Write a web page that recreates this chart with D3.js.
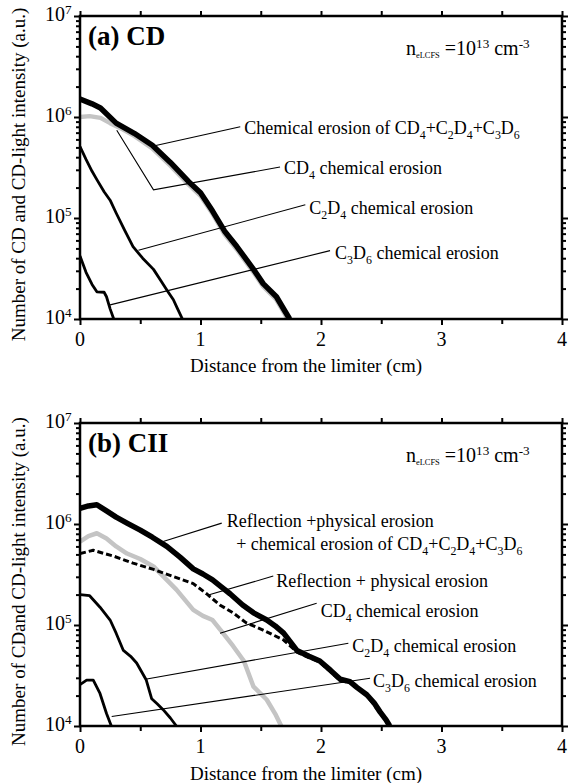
<!DOCTYPE html>
<html lang="en">
<head>
<meta charset="utf-8"/>
<title>CD and CII emission profiles</title>
<script src="https://cdn.jsdelivr.net/npm/d3@7"></script>
<style>
  body { margin: 0; background: #fff; }
</style>
</head>
<body>
<svg id="chart"></svg>
<script>
// ---- data: [distance (cm), value (a.u.)] ----

// (a) CD
const cdTotal = [[0,1.51e6],[0.1,1.35e6],[0.17,1.23e6],[0.3,8.7e5],[0.45,6.9e5],[0.6,5.25e5],[0.75,3.55e5],
  [0.9,2.3e5],[1.0,1.78e5],[1.1,1.17e5],[1.2,7.4e4],[1.3,5.25e4],[1.44,3.1e4],[1.52,2.24e4],[1.63,1.66e4],
  [1.7,1.2e4],[1.74,1.0e4]]
const cdCD4 = [[0,1.0e6],[0.08,1.02e6],[0.17,9.8e5],[0.25,8.7e5],[0.35,7.6e5],[0.45,6.5e5],[0.6,4.9e5],
  [0.75,3.3e5],[0.9,2.15e5],[1.0,1.66e5],[1.1,1.1e5],[1.2,6.9e4],[1.3,4.9e4],[1.44,2.9e4],[1.52,2.1e4],
  [1.63,1.55e4],[1.7,1.12e4],[1.72,1.0e4]]
const cdC2D4 = [[0,5.1e5],[0.05,3.8e5],[0.1,2.9e5],[0.14,2.4e5],[0.2,1.82e5],[0.25,1.5e5],[0.3,1.12e5],
  [0.37,7.6e4],[0.44,5.2e4],[0.52,4.0e4],[0.61,3.1e4],[0.67,2.4e4],[0.73,1.86e4],[0.775,1.55e4],
  [0.81,1.26e4],[0.85,1.0e4]]
const cdC3D6 = [[0,4.2e4],[0.05,2.9e4],[0.1,2.2e4],[0.14,1.86e4],[0.2,1.84e4],[0.22,1.66e4],[0.25,1.26e4],
  [0.28,1.0e4]]

// (b) CII
const ciiTotal = [[0,1.43e6],[0.07,1.51e6],[0.14,1.55e6],[0.22,1.35e6],[0.3,1.17e6],[0.39,1.02e6],[0.5,8.7e5],
  [0.6,7.4e5],[0.72,6.0e5],[0.83,4.7e5],[0.94,3.6e5],[1.02,3.2e5],[1.1,2.8e5],[1.17,2.4e5],[1.245,2.04e5],
  [1.35,1.58e5],[1.44,1.32e5],[1.55,1.12e5],[1.62,9.8e4],[1.69,8.3e4],[1.8,5.6e4],[1.9,4.9e4],[1.99,4.4e4],
  [2.08,3.55e4],[2.16,2.9e4],[2.24,2.75e4],[2.3,2.4e4],[2.38,2.04e4],[2.44,1.7e4],[2.49,1.38e4],
  [2.54,1.15e4],[2.57,1.0e4]]
const ciiRefl = [[0,6.7e5],[0.07,7.6e5],[0.14,8.1e5],[0.22,7.2e5],[0.3,6.0e5],[0.39,5.1e5],[0.5,4.5e5],
  [0.61,3.8e5],[0.72,2.8e5],[0.8,2.24e5],[0.94,1.41e5],[1.02,1.23e5],[1.1,1.12e5],[1.18,8.5e4],[1.27,6.2e4],
  [1.36,4.4e4],[1.44,2.45e4],[1.55,1.82e4],[1.62,1.32e4],[1.67,1.0e4]]
const ciiCD4 = [[0,5.1e5],[0.11,5.5e5],[0.2,5.1e5],[0.28,4.8e5],[0.44,4.1e5],[0.61,3.55e5],[0.78,3.0e5],
  [0.94,2.57e5],[1.05,2.04e5],[1.16,1.58e5],[1.27,1.32e5],[1.38,1.05e5],[1.52,8.9e4],[1.69,7.1e4],
  [1.8,5.4e4],[1.9,4.75e4],[1.99,4.3e4],[2.08,3.45e4],[2.16,2.8e4],[2.24,2.7e4],[2.38,2.0e4],[2.49,1.35e4],
  [2.57,1.0e4]]
const ciiC2D4 = [[0,2.0e5],[0.08,1.95e5],[0.166,1.5e5],[0.25,1.12e5],[0.3,8.3e4],[0.36,5.6e4],[0.42,4.9e4],
  [0.47,4.2e4],[0.55,2.85e4],[0.595,1.86e4],[0.64,1.66e4],[0.69,1.45e4],[0.75,1.2e4],[0.8,1.0e4]]
const ciiC3D6 = [[0,2.57e4],[0.055,2.85e4],[0.11,2.85e4],[0.166,2.1e4],[0.22,1.33e4],[0.26,1.0e4]]

// axis values
const xMajor = [0, 1, 2, 3, 4]
const xMinor = [0.5, 1.5, 2.5, 3.5]
const yDecades = [4, 5, 6, 7]

// ---- layout ----
const W = 573, H = 783
const left = 80, right = 562, plotH = 303
const FONT = '"Liberation Serif", "Times New Roman", serif'

const svg = d3.select('#chart').attr('width', W).attr('height', H)

const x = d3.scaleLinear().domain([0, 4]).range([left, right])

function txt(g, px, py, size) {
  return g.append('text').attr('x', px).attr('y', py)
    .style('font-family', FONT).style('font-size', size + 'px')
    .style('white-space', 'pre').attr('fill', '#000')
}

// text with sub / superscripts: parts are strings or [str, 'sub'|'sup'|'tiny']
function rich(g, px, py, parts, size, weight) {
  const t = txt(g, px, py, size)
  if (weight) t.style('font-weight', weight)
  let shift = 0
  parts.forEach(p => {
    const str = typeof p === 'string' ? p : p[0]
    const kind = typeof p === 'string' ? null : p[1]
    const target = kind === 'sub' ? size * 0.28 : kind === 'tiny' ? size * 0.15
      : kind === 'sup' ? -size * 0.36 : 0
    const ts = t.append('tspan').text(str).attr('dy', target - shift)
    if (kind === 'tiny') ts.style('font-size', (size * 0.42) + 'px')
    else if (kind) ts.style('font-size', (size * 0.66) + 'px')
    shift = target
  })
  return t
}

function drawPanel(top, cfg) {
  const g = svg.append('g')
  const y = d3.scaleLog().domain([1e4, 1e7]).range([top + plotH, top])
  const yMinor = y.ticks().filter(v => !yDecades.includes(Math.round(Math.log10(v) * 1000) / 1000))

  const clipId = 'clip' + top
  g.append('clipPath').attr('id', clipId).append('rect')
    .attr('x', left).attr('y', top).attr('width', right - left).attr('height', plotH)

  const line = d3.line().x(d => x(d[0])).y(d => y(d[1]))
  const curves = g.append('g').attr('clip-path', `url(#${clipId})`)
  cfg.series.forEach(s => {
    curves.append('path').datum(s.data).attr('d', line)
      .attr('fill', 'none').attr('stroke', s.color).attr('stroke-width', s.width)
      .attr('stroke-linejoin', 'round')
      .attr('stroke-dasharray', s.dash || null)
  })

  // leader lines and labels
  cfg.notes.forEach(n => {
    g.append('path').datum(n.pts).attr('d', line)
      .attr('fill', 'none').attr('stroke', '#000').attr('stroke-width', 1.1)
    const end = n.pts[n.pts.length - 1]
    n.lines.forEach((parts, i) => {
      rich(g, x(end[0]) + n.dx + (i ? n.dx2 : 0), y(end[1]) + n.dy + i * 23, parts, 18)
    })
  })

  // axes
  const bottomG = g.append('g').attr('transform', `translate(0,${top + plotH})`)
  bottomG.call(d3.axisBottom(x).tickValues(xMajor).tickSize(6).tickFormat(''))
  bottomG.append('g').call(d3.axisBottom(x).tickValues(xMinor).tickSize(5).tickFormat(''))
  const topG = g.append('g').attr('transform', `translate(0,${top})`)
  topG.call(d3.axisTop(x).tickValues(xMajor.concat(xMinor)).tickSize(5).tickFormat(''))

  const leftG = g.append('g').attr('transform', `translate(${left},0)`)
  leftG.call(d3.axisLeft(y).tickValues(yDecades.map(e => Math.pow(10, e))).tickSize(6).tickFormat(''))
  leftG.append('g').call(d3.axisLeft(y).tickValues(yMinor).tickSize(4).tickFormat(''))
  const rightG = g.append('g').attr('transform', `translate(${right},0)`)
  rightG.call(d3.axisRight(y).tickValues(yDecades.map(e => Math.pow(10, e))).tickSize(6).tickFormat(''))
  rightG.append('g').call(d3.axisRight(y).tickValues(yMinor).tickSize(4).tickFormat(''))

  g.selectAll('.domain').remove()
  g.selectAll('.tick line').attr('stroke', '#000').attr('stroke-width', 2)

  g.append('rect').attr('x', left).attr('y', top).attr('width', right - left).attr('height', plotH)
    .attr('fill', 'none').attr('stroke', '#000').attr('stroke-width', 2.5)

  // tick labels
  xMajor.forEach(v => {
    txt(g, x(v), top + plotH + 27, 20).attr('text-anchor', 'middle').text(v)
  })
  yDecades.forEach(e => {
    rich(g, left - 35, y(Math.pow(10, e)) + 5, ['10', [String(e), 'sup']], 20)
  })

  // titles
  rich(g, left + 8, top + 29, [cfg.title], 27, 'bold')
  rich(g, 406, top + 39, ['n', ['eLCFS', 'tiny'], ' =10', ['13', 'sup'], ' cm', ['-3', 'sup']], 20)

  txt(g, 306, top + plotH + cfg.xTitleGap, 19).attr('text-anchor', 'middle')
    .text('Distance from the limiter (cm)')
  txt(g, 0, 0, 19).attr('x', null).attr('y', null)
    .attr('transform', `translate(25,${top + plotH / 2 + 7}) rotate(-90)`)
    .attr('text-anchor', 'middle').text(cfg.yTitle)
}

const black = '#000', grey = '#c4c4c4'
const sumLabel = ['Chemical erosion of CD', ['4', 'sub'], '+C', ['2', 'sub'], 'D', ['4', 'sub'], '+C', ['3', 'sub'], 'D', ['6', 'sub']]
const cd4Label = ['CD', ['4', 'sub'], ' chemical erosion']
const c2d4Label = ['C', ['2', 'sub'], 'D', ['4', 'sub'], ' chemical erosion']
const c3d6Label = ['C', ['3', 'sub'], 'D', ['6', 'sub'], ' chemical erosion']

drawPanel(16, {
  title: '(a) CD',
  yTitle: 'Number of CD and CD-light intensity (a.u.)',
  xTitleGap: 53,
  series: [
    { data: cdCD4, color: grey, width: 4.5 },
    { data: cdTotal, color: black, width: 5.5 },
    { data: cdC2D4, color: black, width: 2.8 },
    { data: cdC3D6, color: black, width: 2.8 }
  ],
  notes: [
    { pts: [[0.62, 5.2e5], [1.33, 8.0e5]], dx: 4, dy: 7, lines: [sumLabel] },
    { pts: [[0.305, 7.4e5], [0.61, 1.9e5], [1.66, 3.2e5]], dx: 4, dy: 7, lines: [cd4Label] },
    { pts: [[0.485, 4.8e4], [1.87, 1.35e5]], dx: 4, dy: 9, lines: [c2d4Label] },
    { pts: [[0.25, 1.38e4], [2.075, 4.75e4]], dx: 5, dy: 8, lines: [c3d6Label] }
  ]
})

drawPanel(423, {
  title: '(b) CII',
  yTitle: 'Number of CDand CD-light intensity (a.u.)',
  xTitleGap: 54,
  series: [
    { data: ciiRefl, color: grey, width: 4.5 },
    { data: ciiCD4, color: black, width: 3, dash: '6,3' },
    { data: ciiTotal, color: black, width: 5.5 },
    { data: ciiC2D4, color: black, width: 2.8 },
    { data: ciiC3D6, color: black, width: 2.8 }
  ],
  notes: [
    { pts: [[0.69, 6.7e5], [1.176, 1.02e6]], dx: 5, dy: 4, dx2: 5,
      lines: [['Reflection +physical erosion'], [' + chemical erosion of CD', ['4', 'sub'], '+C', ['2', 'sub'], 'D', ['4', 'sub'], '+C', ['3', 'sub'], 'D', ['6', 'sub']]] },
    { pts: [[1.065, 1.98e5], [1.604, 3.05e5]], dx: 3, dy: 11, lines: [['Reflection + physical erosion']] },
    { pts: [[1.162, 8.3e4], [1.964, 1.64e5]], dx: 4, dy: 14, lines: [cd4Label] },
    { pts: [[0.554, 2.92e4], [2.227, 6.6e4]], dx: 4, dy: 9, lines: [c2d4Label] },
    { pts: [[0.263, 1.24e4], [2.407, 2.97e4]], dx: 3, dy: 9, lines: [c3d6Label] }
  ]
})
</script>
</body>
</html>
